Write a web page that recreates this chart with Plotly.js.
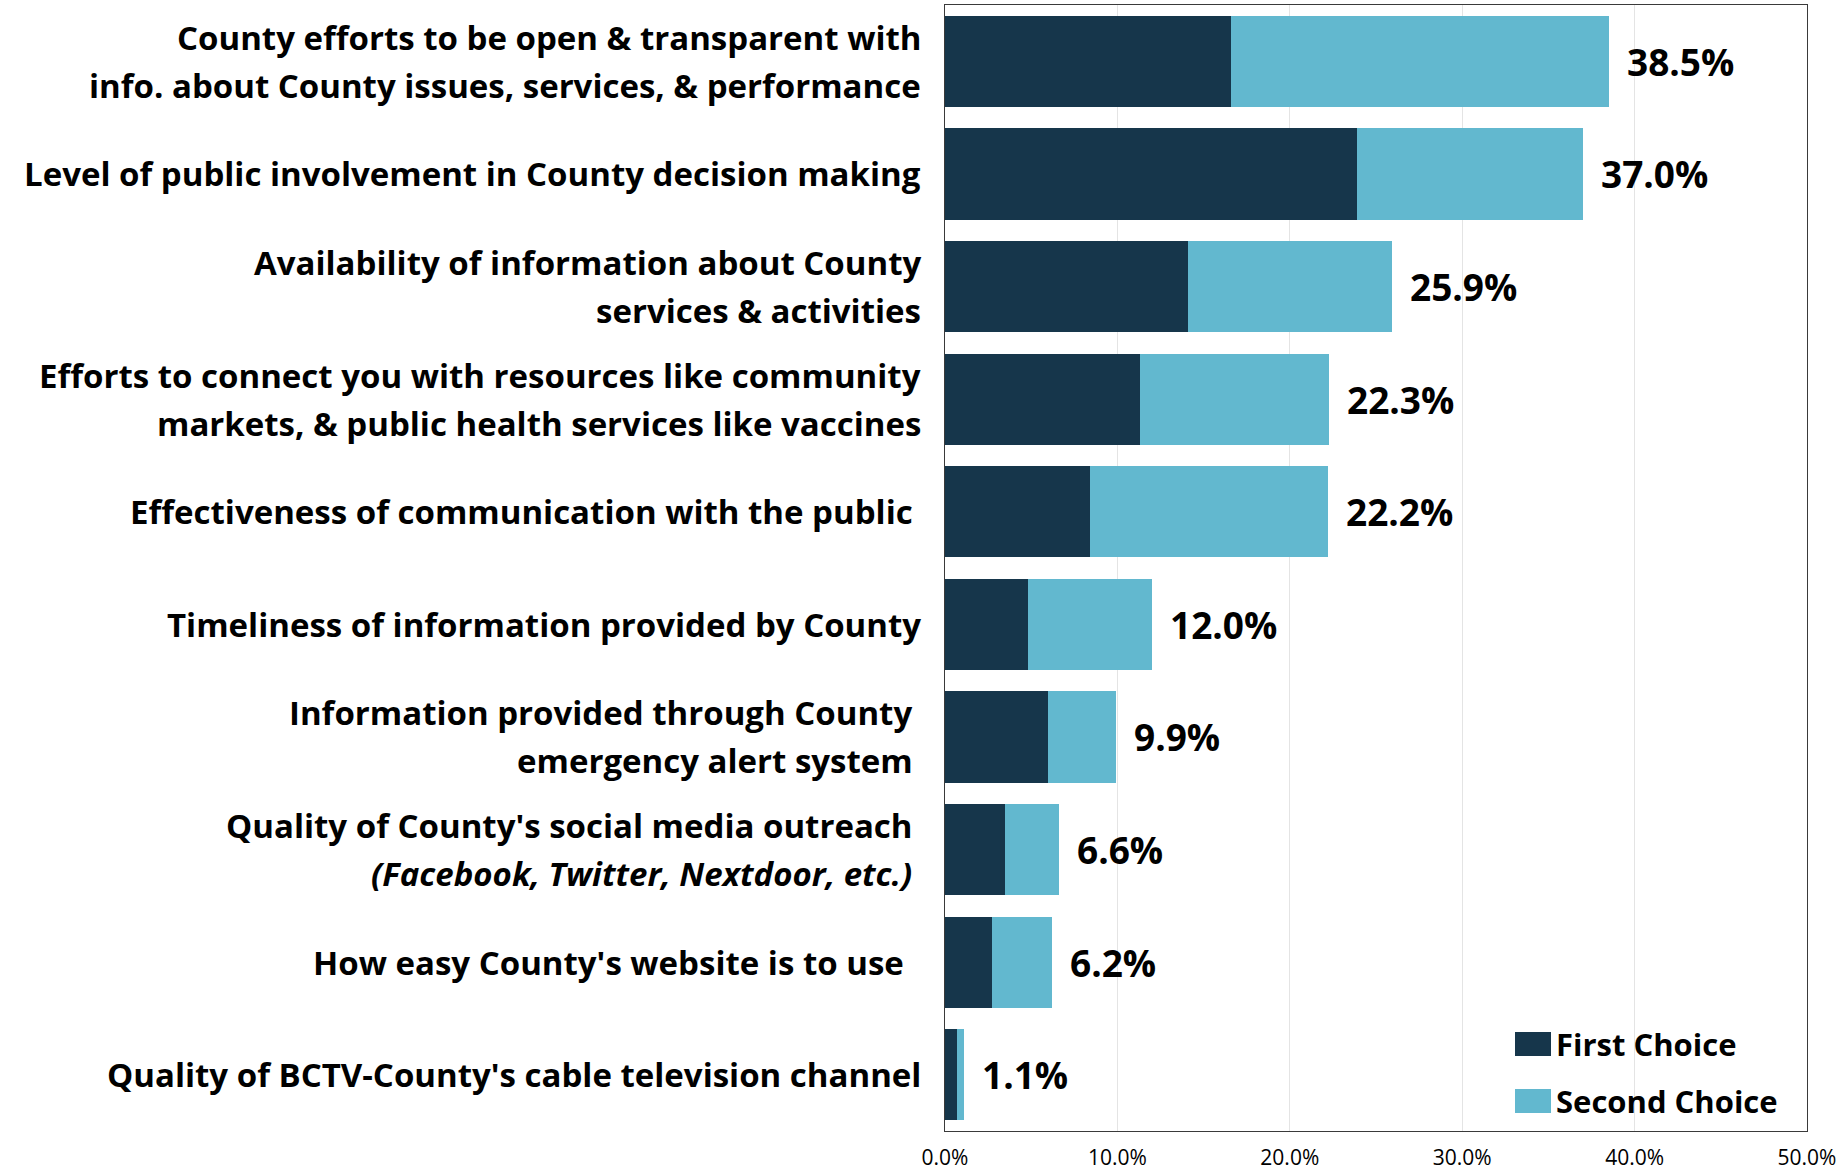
<!DOCTYPE html>
<html>
<head>
<meta charset="utf-8">
<script src="https://cdn.plot.ly/plotly-3.0.1.min.js"></script>
<style>
  html, body { margin: 0; padding: 0; background: #ffffff; }
  #chart { width: 1844px; height: 1176px; }
</style>
</head>
<body>
<div id="chart"></div>
<script>
// ---- Data (percent of respondents) ----
const categories = [
  "County efforts to be open & transparent with<br>info. about County issues, services, & performance",
  "Level of public involvement in County decision making",
  "Availability of information about County<br>services & activities",
  "Efforts to connect you with resources like community<br>markets, & public health services like vaccines",
  "Effectiveness of communication with the public\u00a0",
  "Timeliness of information provided by County",
  "Information provided through County\u00a0<br>emergency alert system\u00a0",
  "Quality of County's social media outreach\u00a0<br><i>(Facebook, Twitter, Nextdoor, etc.)</i>\u00a0",
  "How easy County's website is to use\u00a0\u00a0",
  "Quality of BCTV-County's cable television channel"
];
const firstChoice  = [16.6, 23.9, 14.1, 11.3, 8.4, 4.8, 6.0, 3.5, 2.7, 0.7];
const secondChoice = [21.9, 13.1, 11.8, 11.0, 13.8, 7.2, 3.9, 3.1, 3.5, 0.4];
const totals       = [38.5, 37.0, 25.9, 22.3, 22.2, 12.0, 9.9, 6.6, 6.2, 1.1];
const seriesNames  = ["First Choice", "Second Choice"];
const tickValues   = [0, 10, 20, 30, 40, 50];

// ---- Styling ----
const DARK = "#16364b";
const LIGHT = "#62b8cf";
const FONT = "Open Sans, DejaVu Sans, sans-serif";

const catKeys = categories.map((c, i) => "c" + i);

const traces = [
  {
    type: "bar", orientation: "h",
    name: seriesNames[0],
    y: catKeys, x: firstChoice,
    marker: { color: DARK },
    showlegend: false, hoverinfo: "x+name"
  },
  {
    type: "bar", orientation: "h",
    name: seriesNames[1],
    y: catKeys, x: secondChoice,
    marker: { color: LIGHT },
    showlegend: false, hoverinfo: "x+name"
  }
];

const annotations = [];
// Category labels (each line drawn separately for Excel-like line spacing)
const LINE_GAP = 48;
categories.forEach((label, i) => {
  const lines = label.split("<br>");
  const n = lines.length;
  lines.forEach((ln, j) => {
    annotations.push({
      xref: "paper", yref: "y",
      x: 0, y: catKeys[i],
      xanchor: "right", yanchor: "middle",
      xshift: -22,
      yshift: ((n - 1) / 2 - j) * LINE_GAP,
      text: "<b>" + ln + "</b>",
      showarrow: false,
      align: "right",
      font: { family: FONT, size: 33, color: "#000000" }
    });
  });
});
// Total value labels
totals.forEach((t, i) => {
  annotations.push({
    xref: "x", yref: "y",
    x: t, y: catKeys[i],
    xanchor: "left", yanchor: "middle",
    xshift: 16,
    text: "<b>" + t.toFixed(1) + "%</b>",
    showarrow: false,
    font: { family: FONT, size: 37, color: "#000000" }
  });
});

// Manual legend (large swatches as in the original)
const legendItems = [
  { name: seriesNames[0], color: DARK, y0: 1032, y1: 1056 },
  { name: seriesNames[1], color: LIGHT, y0: 1089, y1: 1113 }
];
const shapes = [];
const W = 1844, H = 1176;
const mL = 945, mR = 37, mT = 5, mB = 45;
const pw = W - mL - mR, ph = H - mT - mB;
legendItems.forEach(it => {
  const px0 = (1515 - mL) / pw, px1 = (1551 - mL) / pw;
  const py0 = 1 - (it.y1 - mT) / ph, py1 = 1 - (it.y0 - mT) / ph;
  shapes.push({
    type: "rect", xref: "paper", yref: "paper",
    x0: px0, x1: px1, y0: py0, y1: py1,
    fillcolor: it.color, line: { width: 0 }
  });
  annotations.push({
    xref: "paper", yref: "paper",
    x: (1554 - mL) / pw, y: 1 - ((it.y0 + it.y1) / 2 - mT) / ph,
    xanchor: "left", yanchor: "middle",
    text: "<b>" + it.name + "</b>",
    showarrow: false,
    font: { family: FONT, size: 31, color: "#000000" }
  });
});

const layout = {
  width: W, height: H,
  margin: { l: mL, r: mR, t: mT, b: mB, pad: 0 },
  paper_bgcolor: "#ffffff",
  plot_bgcolor: "#ffffff",
  barmode: "stack",
  bargap: 0.19,
  showlegend: false,
  font: { family: FONT, color: "#000000" },
  xaxis: {
    range: [0, 50],
    tickvals: tickValues,
    ticktext: tickValues.map(v => v.toFixed(1) + "%"),
    showgrid: true,
    gridcolor: "#e4e4e4",
    gridwidth: 1,
    zeroline: false,
    showline: true,
    mirror: true,
    linecolor: "#3a3a3a",
    linewidth: 1,
    ticks: "",
    ticklabelstandoff: 8,
    tickfont: { family: FONT, size: 21, color: "#000000" },
    fixedrange: true
  },
  yaxis: {
    type: "category",
    categoryorder: "array",
    categoryarray: catKeys,
    autorange: "reversed",
    showticklabels: false,
    showgrid: false,
    zeroline: false,
    showline: true,
    mirror: true,
    linecolor: "#3a3a3a",
    linewidth: 1,
    ticks: "",
    fixedrange: true
  },
  annotations: annotations,
  shapes: shapes
};

Plotly.newPlot("chart", traces, layout, { displayModeBar: false, staticPlot: true });
</script>
</body>
</html>
